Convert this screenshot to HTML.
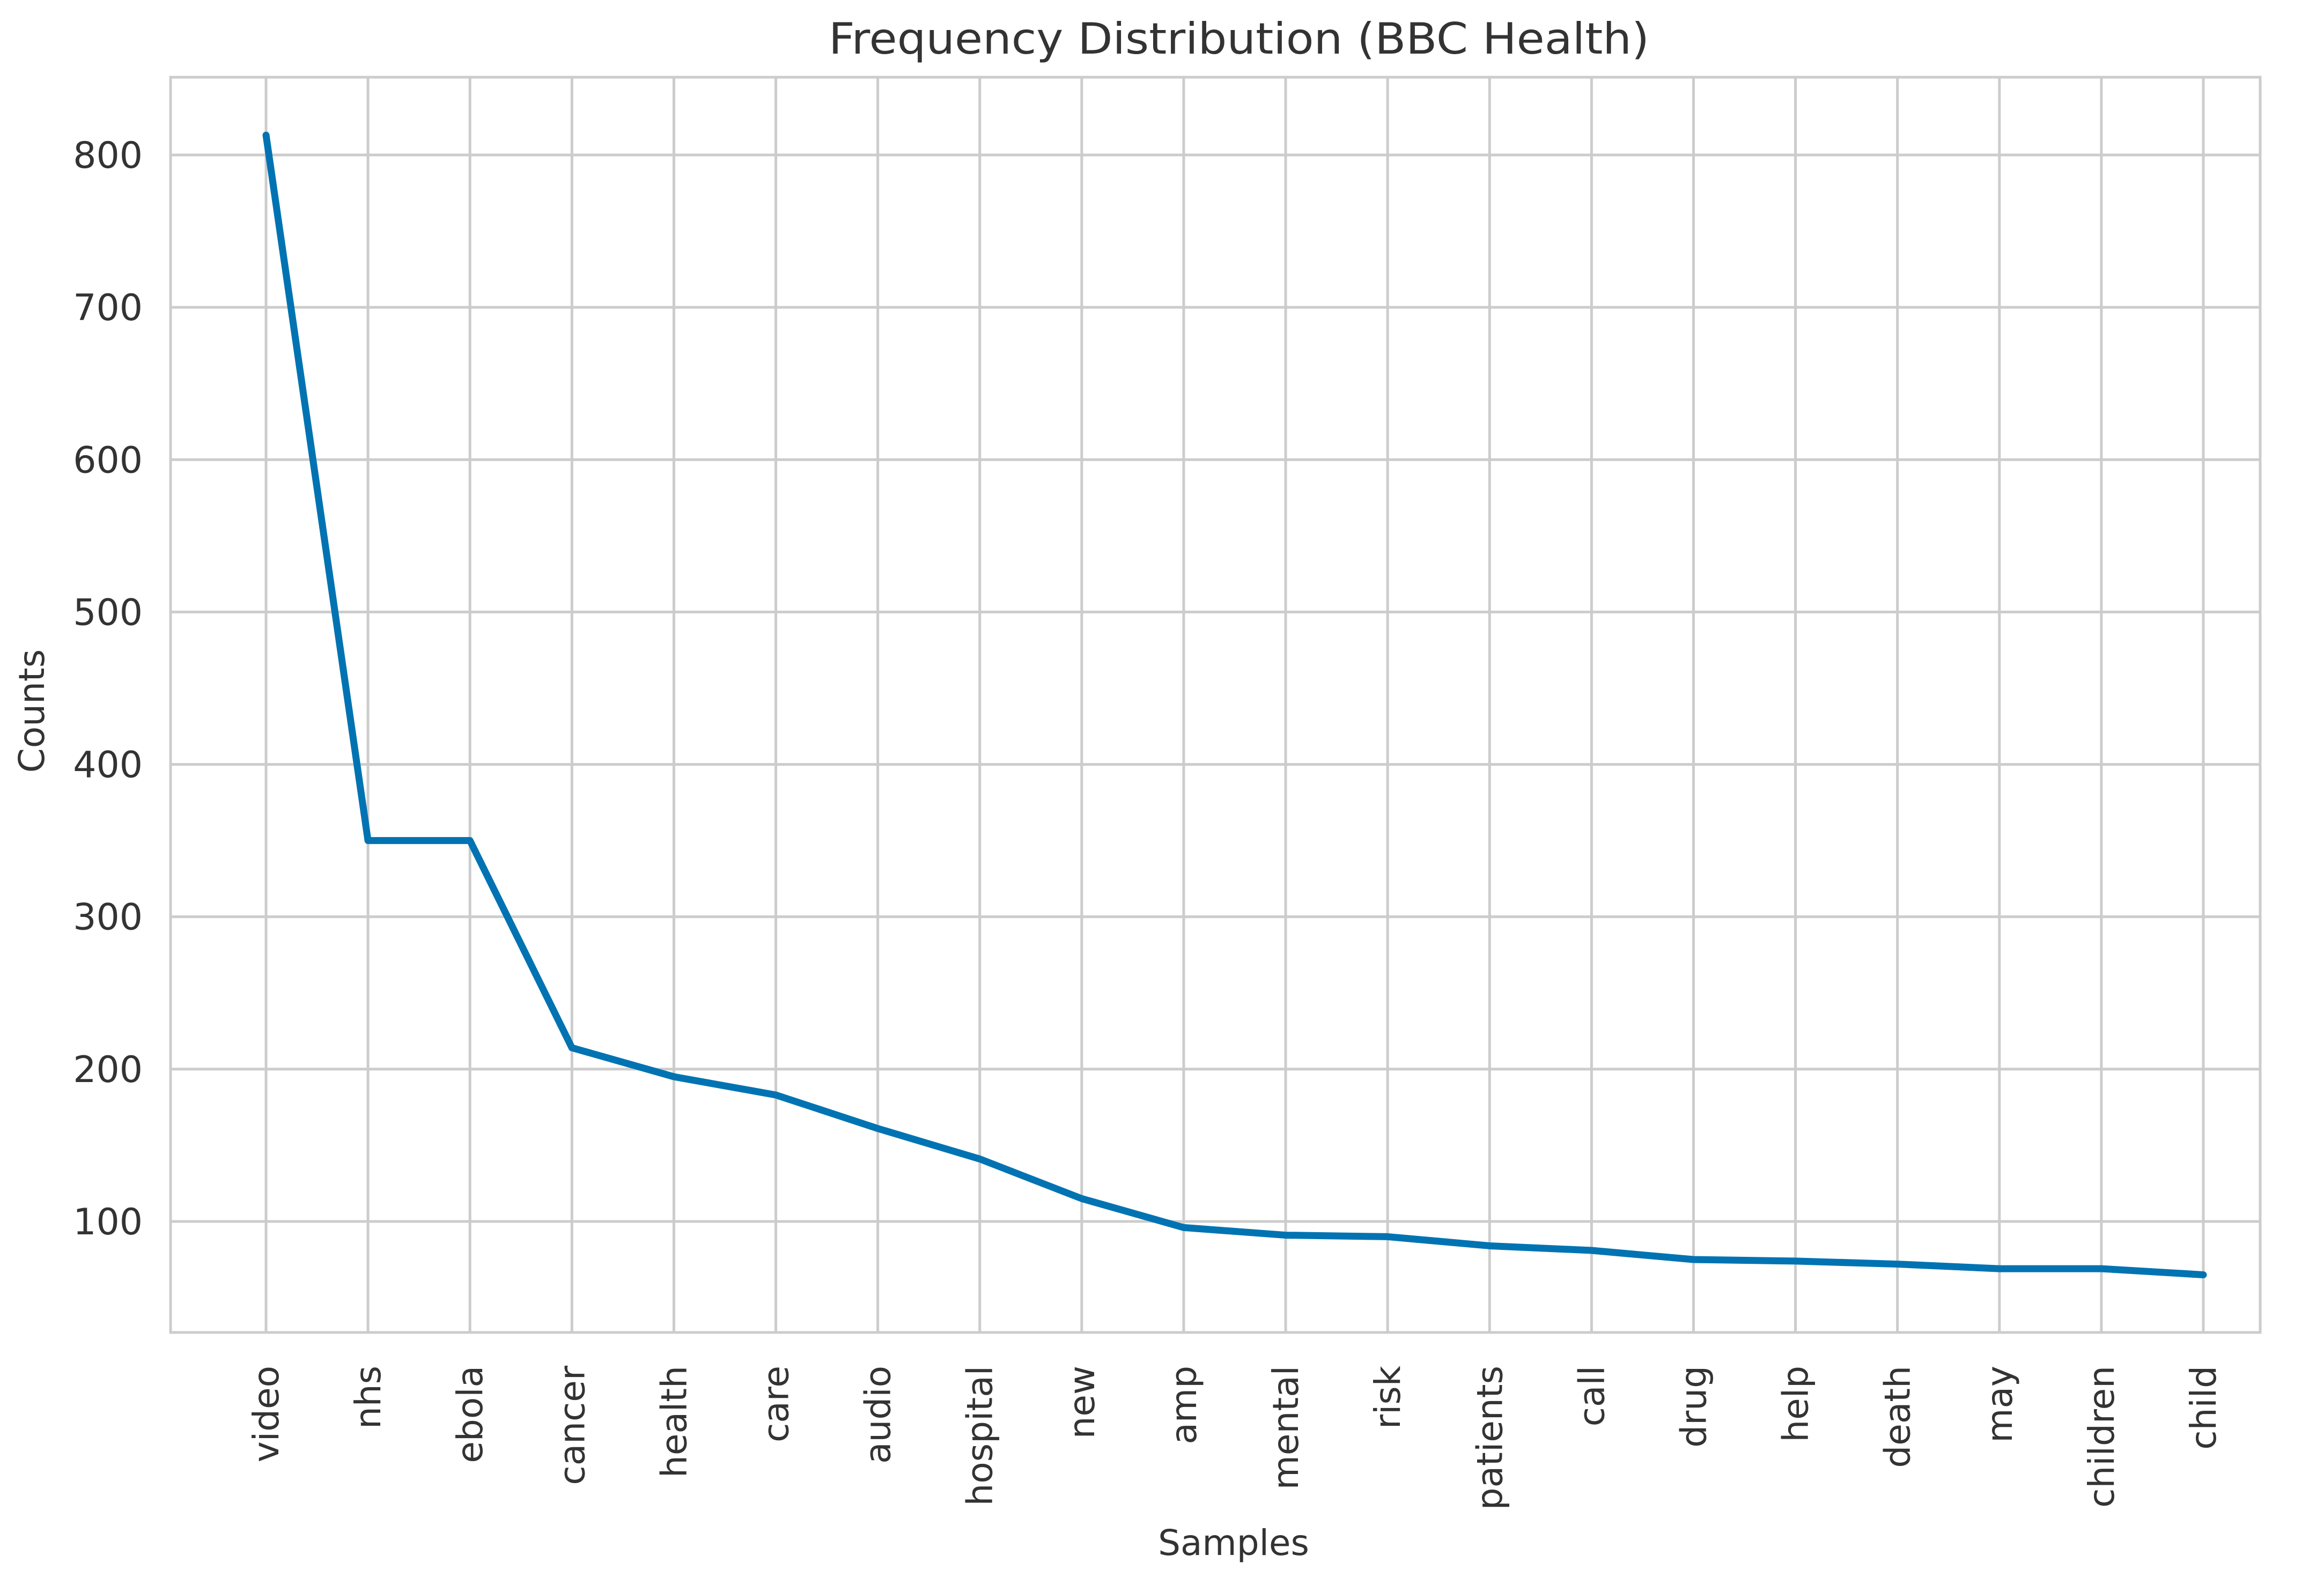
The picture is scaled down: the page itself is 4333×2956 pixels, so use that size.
<!DOCTYPE html>
<html><head><meta charset="utf-8">
<style>
html,body{margin:0;padding:0;background:#fff;}
svg{display:block;}
text{font-family:"DejaVu Sans","Liberation Sans",sans-serif;fill:#333;}
</style></head>
<body>
<svg id="chart" width="4333" height="2956" viewBox="0 0 4333 2956" xmlns="http://www.w3.org/2000/svg">
<rect x="0" y="0" width="4333" height="2956" fill="#fff"/>
<text x="2310" y="100" font-size="80" text-anchor="middle" textLength="1530" lengthAdjust="spacingAndGlyphs">Frequency Distribution (BBC Health)</text>
<g id="grid"></g>
<rect x="318" y="144" width="3896" height="2341" fill="none" stroke="#cccccc" stroke-width="5"/>
<g id="series"></g>
<g id="xticks"></g>
<g id="yticks"></g>
<text x="2300" y="2900" font-size="66" text-anchor="middle">Samples</text>
<text x="82" y="1326" font-size="66" text-anchor="middle" transform="rotate(-90 82 1326)">Counts</text>
</svg>
<script>
const categories = ["video","nhs","ebola","cancer","health","care","audio","hospital","new","amp","mental","risk","patients","call","drug","help","death","may","children","child"];
const counts = [813,350,350,214,195,183,161,141,115,96,91,90,84,81,75,74,72,69,69,65];
const yTicks = [100,200,300,400,500,600,700,800];

const SVGNS = "http://www.w3.org/2000/svg";
const plotL = 318, plotR = 4214, plotT = 144, plotB = 2485;
const firstX = 496, lastX = 4108;
function xScale(i){ return firstX + (lastX - firstX) * i / (categories.length - 1); }
function yScale(v){ return 2278 + (100 - v) * (2278 - 289) / 700; }

const gridG = document.getElementById('grid');
const seriesG = document.getElementById('series');
const xtG = document.getElementById('xticks');
const ytG = document.getElementById('yticks');

function mk(tag, attrs){ const e = document.createElementNS(SVGNS, tag); for (const k in attrs) e.setAttribute(k, attrs[k]); return e; }

yTicks.forEach(v => {
  const y = yScale(v);
  const l = mk('line', {x1:plotL, x2:plotR, y1:y, y2:y, stroke:'#cccccc', 'stroke-width':5});
  
  
  gridG.appendChild(l);
  const t = mk('text', {x:plotL-52, y:y+24, 'font-size':68, 'text-anchor':'end'});
  
  
  t.textContent = v;
  ytG.appendChild(t);
});

categories.forEach((c, i) => {
  const x = xScale(i);
  const l = mk('line', {x1:x, x2:x, y1:plotT, y2:plotB, stroke:'#cccccc', 'stroke-width':5});
  
  
  gridG.appendChild(l);
  const ty = 2547;
  const t = mk('text', {x:x+23, y:ty, 'font-size':66, 'text-anchor':'end', transform:'rotate(-90 ' + (x+23) + ' ' + ty + ')'});
  
  
  t.textContent = c;
  xtG.appendChild(t);
});

const pts = counts.map((v, i) => xScale(i) + ',' + yScale(v)).join(' ');
const pl = mk('polyline', {points:pts, fill:'none', stroke:'#0173b2', 'stroke-width':13, 'stroke-linejoin':'round', 'stroke-linecap':'round'});


seriesG.appendChild(pl);
</script>
</body></html>
